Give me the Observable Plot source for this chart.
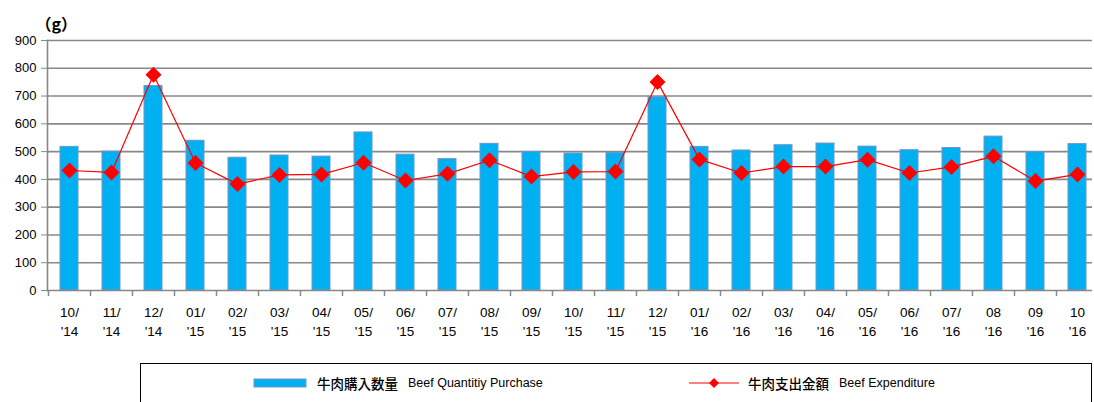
<!DOCTYPE html>
<html><head><meta charset="utf-8">
<script src="https://cdn.jsdelivr.net/npm/d3@7"></script>
<script src="https://cdn.jsdelivr.net/npm/@observablehq/plot@0.6"></script>
<style>
body{margin:0;background:#fff;font-family:"Liberation Sans",Arial,sans-serif;}
#wrap{position:relative;width:1094px;height:402px;overflow:hidden;}
#legend{position:absolute;left:140px;top:363px;width:952px;height:50px;border:1px solid #000;box-sizing:border-box;}
.li{position:absolute;top:9px;display:flex;align-items:center;font-size:13px;white-space:nowrap;}
.cjk{font-family:"Noto Sans CJK JP",sans-serif;font-weight:500;font-size:13.5px;margin-right:10px;}
.en{font-family:"Liberation Sans Narrow","Liberation Sans",sans-serif;font-size:12.5px;}
</style></head>
<body><div id="wrap"><div id="chart"></div>
<div id="legend">
 <div class="li" style="left:112px"><svg width="58" height="12" style="margin-right:6px"><rect x="1" y="2" width="52" height="8" fill="#00B0F0" stroke="#6f95c8"/></svg><span class="cjk">牛肉購入数量</span><span class="en">Beef Quantitiy Purchase</span></div>
 <div class="li" style="left:547px"><svg width="56" height="14" style="margin-right:4px"><line x1="1" y1="7" x2="51" y2="7" stroke="#FF0000" stroke-width="1.2"/><path d="M26,2 L31,7 L26,12 L21,7Z" fill="#FF0000"/></svg><span class="cjk">牛肉支出金額</span><span class="en">Beef Expenditure</span></div>
</div></div>
<script>
const months = ["10/\n'14","11/\n'14","12/\n'14","01/\n'15","02/\n'15","03/\n'15","04/\n'15","05/\n'15","06/\n'15","07/\n'15","08/\n'15","09/\n'15","10/\n'15","11/\n'15","12/\n'15","01/\n'16","02/\n'16","03/\n'16","04/\n'16","05/\n'16","06/\n'16","07/\n'16","08\n'16","09\n'16","10\n'16"];
const quantity = [517,500,736,539,478,486,482,569,489,473,528,499,493,495,696,517,504,523,529,518,505,513,554,498,527];
const expenditure = [432,425,777,459,383,416,418,460,396,420,469,410,427,428,751,472,423,446,446,471,423,445,483,394,418];
const yTicks = [0,100,200,300,400,500,600,700,800,900];
const unitLabel = "（g）";

const data = months.map((m,i)=>({m, q:quantity[i], e:expenditure[i]}));
const gray = "#888888";
const chart = Plot.plot({
  width:1094, height:350,
  marginLeft:47, marginRight:2, marginTop:40, marginBottom:60,
  style:{fontFamily:"'Liberation Sans',Arial,sans-serif", fontSize:"13px", color:"#000"},
  x:{domain:months, range:[47,1099], paddingInner:0.57, paddingOuter:0.285, align:0.5, label:null},
  y:{domain:[0,900], label:null},
  marks:[
    Plot.ruleY(yTicks.filter(d=>d>0), {stroke:gray, strokeWidth:1.6}),
    Plot.barY(data, {x:"m", y:"q", fill:"#00B0F0", stroke:"#6f95c8", strokeWidth:1}),
    Plot.ruleY([0], {stroke:gray, strokeWidth:1.6}),
    Plot.frame({anchor:"left", stroke:gray, strokeWidth:1.6}),
    Plot.ruleX(data, {x:"m", y1:0, y2:0, insetBottom:-6, dx:-21, stroke:gray, strokeWidth:1.5}),
    Plot.axisY(yTicks, {tickSize:6, tickPadding:5, stroke:gray, fontSize:13, label:null}),
    Plot.axisX({tickSize:0, tickPadding:14, fontSize:13.5, label:null, lineHeight:1.35}),
    Plot.line(data, {x:"m", y:"e", stroke:"#FF0000", strokeWidth:1.2}),
    Plot.dot(data, {x:"m", y:"e", symbol:"diamond2", r:7.2, fill:"#FF0000", stroke:"none"}),
    Plot.text([unitLabel], {frameAnchor:"top-left", dx:-12, dy:-22, fontSize:16, fontFamily:"'Noto Sans CJK JP',sans-serif", fontWeight:"bold", textAnchor:"start"})
  ]
});
document.getElementById("chart").appendChild(chart);
</script></body></html>
